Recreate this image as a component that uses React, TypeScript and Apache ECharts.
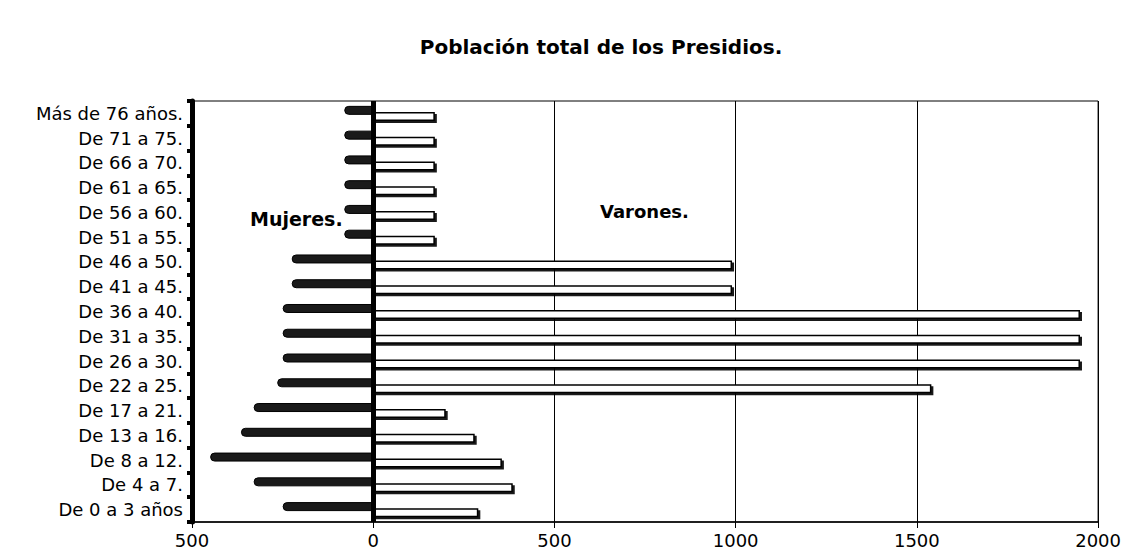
import React, { useEffect, useRef } from "react";
import * as echarts from "echarts";

const categories = [
  "De 0 a 3 años",
  "De 4 a 7.",
  "De 8 a 12.",
  "De 13 a 16.",
  "De 17 a 21.",
  "De 22 a 25.",
  "De 26 a 30.",
  "De 31 a 35.",
  "De 36 a 40.",
  "De 41 a 45.",
  "De 46 a 50.",
  "De 51 a 55.",
  "De 56 a 60.",
  "De 61 a 65.",
  "De 66 a 70.",
  "De 71 a 75.",
  "Más de 76 años.",
];

const varones = [290, 385, 355, 280, 200, 1540, 1950, 1950, 1950, 990, 990, 170, 170, 170, 170, 170, 170];
const mujeres = [250, 330, 450, 365, 330, 265, 250, 250, 250, 225, 225, 80, 80, 80, 80, 80, 80];

const FONT = "'DejaVu Sans', sans-serif";

export default function App() {
  const ref = useRef<HTMLDivElement>(null);
  useEffect(() => {
    const chart = echarts.init(ref.current!, null, { renderer: "svg" });
    chart.setOption({
      animation: false,
      backgroundColor: "#fff",
      title: {
        text: "Población total de los Presidios.",
        left: 588,
        textAlign: "center",
        top: 24,
        textStyle: { fontFamily: FONT, fontSize: 20, fontWeight: "bold", color: "#000" },
      },
      graphic: [
        {
          type: "text",
          left: 242,
          top: 201,
          style: { text: "Mujeres.", font: `bold 19px ${FONT}`, fill: "#000" },
        },
        {
          type: "text",
          left: 592,
          top: 194,
          style: { text: "Varones.", font: `bold 18px ${FONT}`, fill: "#000" },
        },
      ],
      grid: {
        left: 184,
        right: 24,
        top: 93,
        bottom: 30,
        show: true,
        borderColor: "#000",
        borderWidth: 1,
      },
      xAxis: {
        type: "value",
        min: -500,
        max: 2000,
        interval: 500,
        axisLine: { show: true, lineStyle: { color: "#000", width: 1.5 } },
        axisTick: { show: true, length: 6, lineStyle: { color: "#000", width: 1 } },
        axisLabel: {
          formatter: (v: number) => String(Math.abs(v)),
          color: "#000",
          fontFamily: FONT,
          fontSize: 18,
          margin: 9,
        },
        splitLine: { show: true, lineStyle: { color: "#000", width: 1 } },
      },
      yAxis: {
        type: "category",
        data: categories,
        axisLine: { show: true, onZero: false, lineStyle: { color: "#000", width: 5 } },
        axisTick: { show: true, inside: false, length: 5, lineStyle: { color: "#000", width: 4 } },
        axisLabel: {
          color: "#000",
          fontFamily: FONT,
          fontSize: 18,
          margin: 9,
        },
        splitLine: { show: false },
      },
      series: [
        {
          name: "Mujeres",
          type: "bar",
          data: mujeres.map((v) => -v),
          barWidth: 9,
          barGap: "-33%",
          itemStyle: {
            color: "#1a1a1a",
            borderColor: "#000",
            borderWidth: 1,
            borderRadius: [4, 0, 0, 4],
          },
          z: 3,
        },
        {
          name: "Varones",
          type: "bar",
          data: varones,
          barWidth: 9,
          itemStyle: {
            color: "#fff",
            borderColor: "#000",
            borderWidth: 1.5,
            shadowColor: "rgba(0,0,0,0.9)",
            shadowOffsetX: 2,
            shadowOffsetY: 2,
            shadowBlur: 0,
          },
          markLine: {
            silent: true,
            symbol: "none",
            label: { show: false },
            lineStyle: { color: "#000", width: 5, type: "solid" },
            data: [{ xAxis: 0 }],
          },
          z: 2,
        },
      ],
    });
    return () => chart.dispose();
  }, []);
  return <div ref={ref} style={{ width: 1116, height: 544 }} />;
}
